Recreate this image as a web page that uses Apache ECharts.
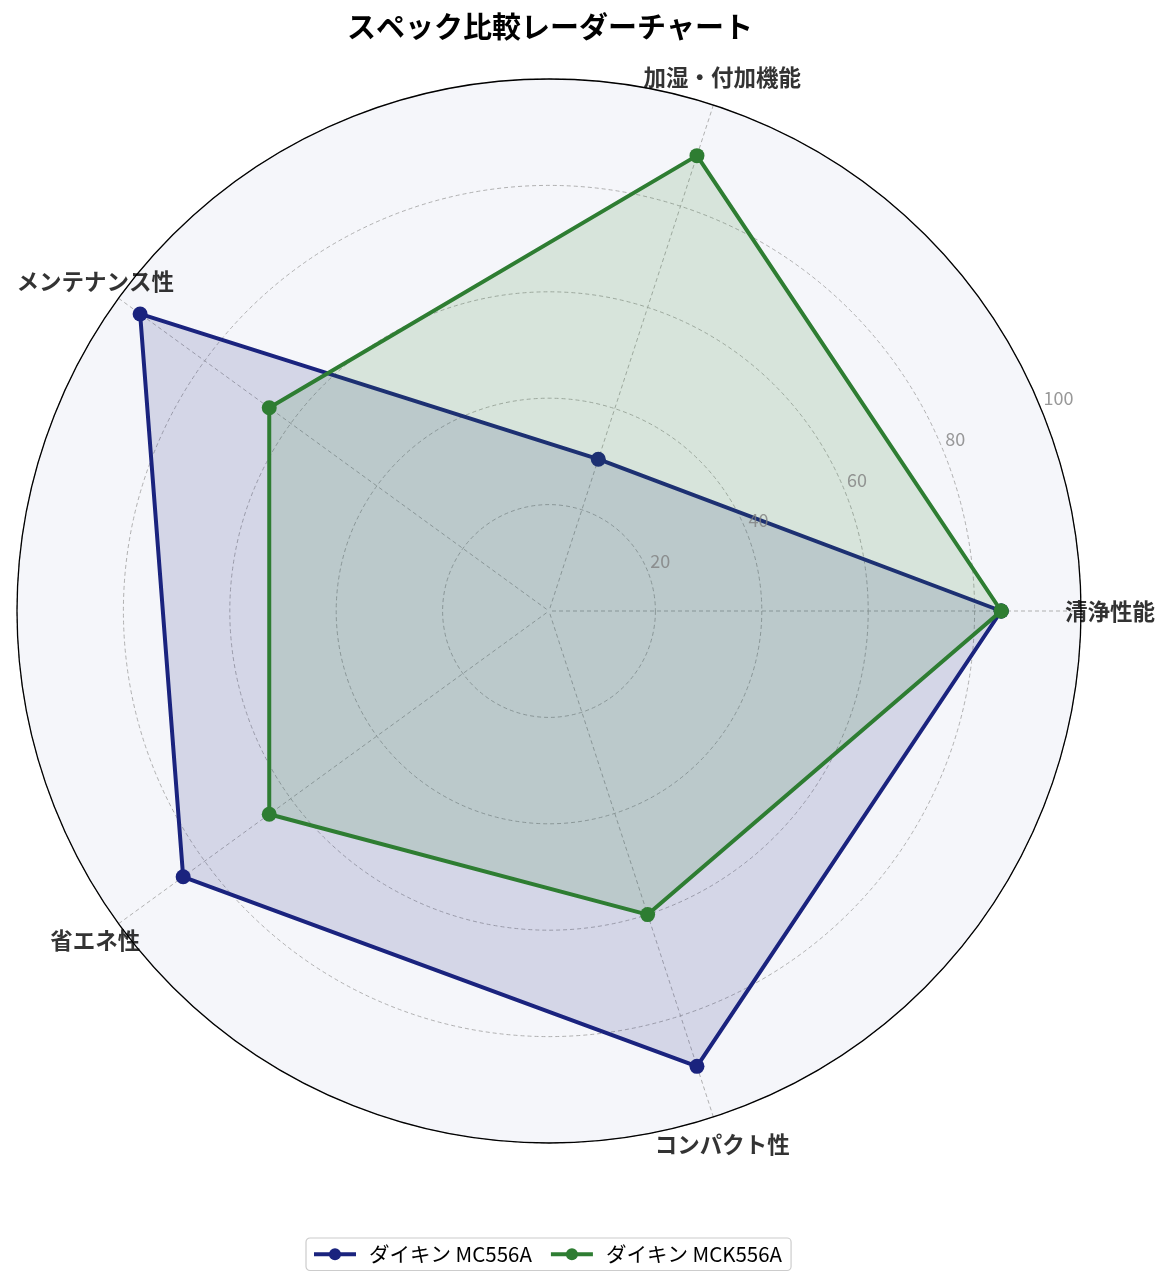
<!DOCTYPE html>
<html>
<head>
<meta charset="utf-8">
<title>スペック比較レーダーチャート</title>
<script src="https://cdn.jsdelivr.net/npm/echarts@6/dist/echarts.min.js"></script>
<style>
  html, body { margin: 0; padding: 0; background: #fff; }
  #chart { width: 1172px; height: 1288px; }
</style>
</head>
<body>
<div id="chart"></div>
<script>
// 軸の名前（右から反時計回り）
var categories = ['清浄性能', '加湿・付加機能', 'メンテナンス性', '省エネ性', 'コンパクト性'];
var seriesNames = ['ダイキン MC556A', 'ダイキン MCK556A'];
var mc556a = [85, 30, 95, 85, 90];
var mck556a = [85, 90, 65, 65, 60];
var radialTicks = [20, 40, 60, 80, 100];

var FONT = '"Noto Sans CJK JP", "Noto Sans", sans-serif';
var STEP = 360 / categories.length;

// [radius, angle] の組にして最初の点で閉じる
function toPolar(values) {
  var res = [];
  for (var i = 0; i < values.length; i++) {
    res.push([values[i], i * STEP]);
  }
  res.push([values[0], 360]);
  return res;
}

var myChart = echarts.init(document.getElementById('chart'));

var gridLine = { color: '#a8a8a8', width: 0.9, type: [4, 3] };

var option = {
  animation: false,
  backgroundColor: '#ffffff',
  textStyle: { fontFamily: FONT },
  title: {
    text: 'スペック比較レーダーチャート',
    left: 545,
    textAlign: 'center',
    top: 7,
    textStyle: { fontSize: 29, fontWeight: 'bold', color: '#000', fontFamily: FONT }
  },
  legend: {
    data: seriesNames,
    left: 306,
    top: 1238,
    itemWidth: 42,
    itemHeight: 15,
    itemGap: 17,
    padding: [6, 9, 6, 6],
    borderColor: '#cccccc',
    borderWidth: 1.2,
    borderRadius: 4,
    lineStyle: { width: 4 },
    textStyle: { fontSize: 20.5, color: '#000', fontFamily: FONT, padding: [0, 0, 0, 8] }
  },
  polar: [
    { center: [549, 611], radius: 532 },
    { center: [549, 611], radius: 561 },
    { center: [549, 611], radius: 532 }
  ],
  angleAxis: [
    {
      polarIndex: 0,
      type: 'value',
      min: 0,
      max: 360,
      interval: STEP,
      startAngle: 0,
      clockwise: false,
      axisLine: { show: true, lineStyle: { color: '#000', width: 1.3 } },
      axisTick: { show: false },
      axisLabel: { show: false },
      splitLine: { show: true, lineStyle: gridLine }
    },
    {
      polarIndex: 1,
      type: 'value',
      min: 0,
      max: 360,
      startAngle: 0,
      clockwise: false,
      show: false
    },
    {
      // 背景の塗り
      polarIndex: 2,
      type: 'value',
      min: 0,
      max: 360,
      startAngle: 0,
      clockwise: false,
      z: -5,
      axisLine: { show: false },
      axisTick: { show: false },
      axisLabel: { show: false },
      splitLine: { show: false },
      splitArea: { show: true, areaStyle: { color: ['#f5f6fa'] } }
    }
  ],
  radiusAxis: [
    {
      polarIndex: 0,
      min: 0,
      max: 100,
      interval: 20,
      axisLine: { show: false },
      axisTick: { show: false },
      axisLabel: { show: false },
      splitLine: { show: true, lineStyle: gridLine }
    },
    { polarIndex: 1, min: 0, max: 100, show: false },
    { polarIndex: 2, min: 0, max: 100, show: false }
  ],
  series: [
    {
      name: seriesNames[0],
      type: 'line',
      coordinateSystem: 'polar',
      polarIndex: 0,
      data: toPolar(mc556a),
      symbol: 'circle',
      symbolSize: 15,
      lineStyle: { color: '#1a237e', width: 4 },
      itemStyle: { color: '#1a237e' },
      areaStyle: { color: '#1a237e', opacity: 0.15 },
      z: 3
    },
    {
      name: seriesNames[1],
      type: 'line',
      coordinateSystem: 'polar',
      polarIndex: 0,
      data: toPolar(mck556a),
      symbol: 'circle',
      symbolSize: 15,
      lineStyle: { color: '#2e7d32', width: 4 },
      itemStyle: { color: '#2e7d32' },
      areaStyle: { color: '#2e7d32', opacity: 0.15 },
      z: 4
    },
    {
      // 軸の名前
      type: 'scatter',
      coordinateSystem: 'polar',
      polarIndex: 1,
      silent: true,
      symbolSize: 1,
      itemStyle: { color: 'transparent' },
      data: categories.map(function (c, i) { return [100, i * STEP]; }),
      label: {
        show: true,
        position: 'inside',
        align: 'center',
        verticalAlign: 'middle',
        fontSize: 22.5,
        fontWeight: 'bold',
        color: '#000',
        fontFamily: FONT,
        formatter: function (p) { return categories[p.dataIndex]; }
      }
    },
    {
      // 目盛りラベル（22.5度）
      type: 'scatter',
      coordinateSystem: 'polar',
      polarIndex: 0,
      silent: true,
      symbolSize: 1,
      itemStyle: { color: 'transparent' },
      data: radialTicks.map(function (t) { return [t, 22.5]; }),
      label: {
        show: true,
        position: 'inside',
        align: 'left',
        verticalAlign: 'middle',
        offset: [3, -9],
        fontSize: 18,
        color: '#808080',
        fontFamily: FONT,
        formatter: function (p) { return String(radialTicks[p.dataIndex]); }
      },
      z: 5
    }
  ]
};

myChart.setOption(option);
window.addEventListener('resize', function () {
  myChart.resize();
});
</script>
</body>
</html>
